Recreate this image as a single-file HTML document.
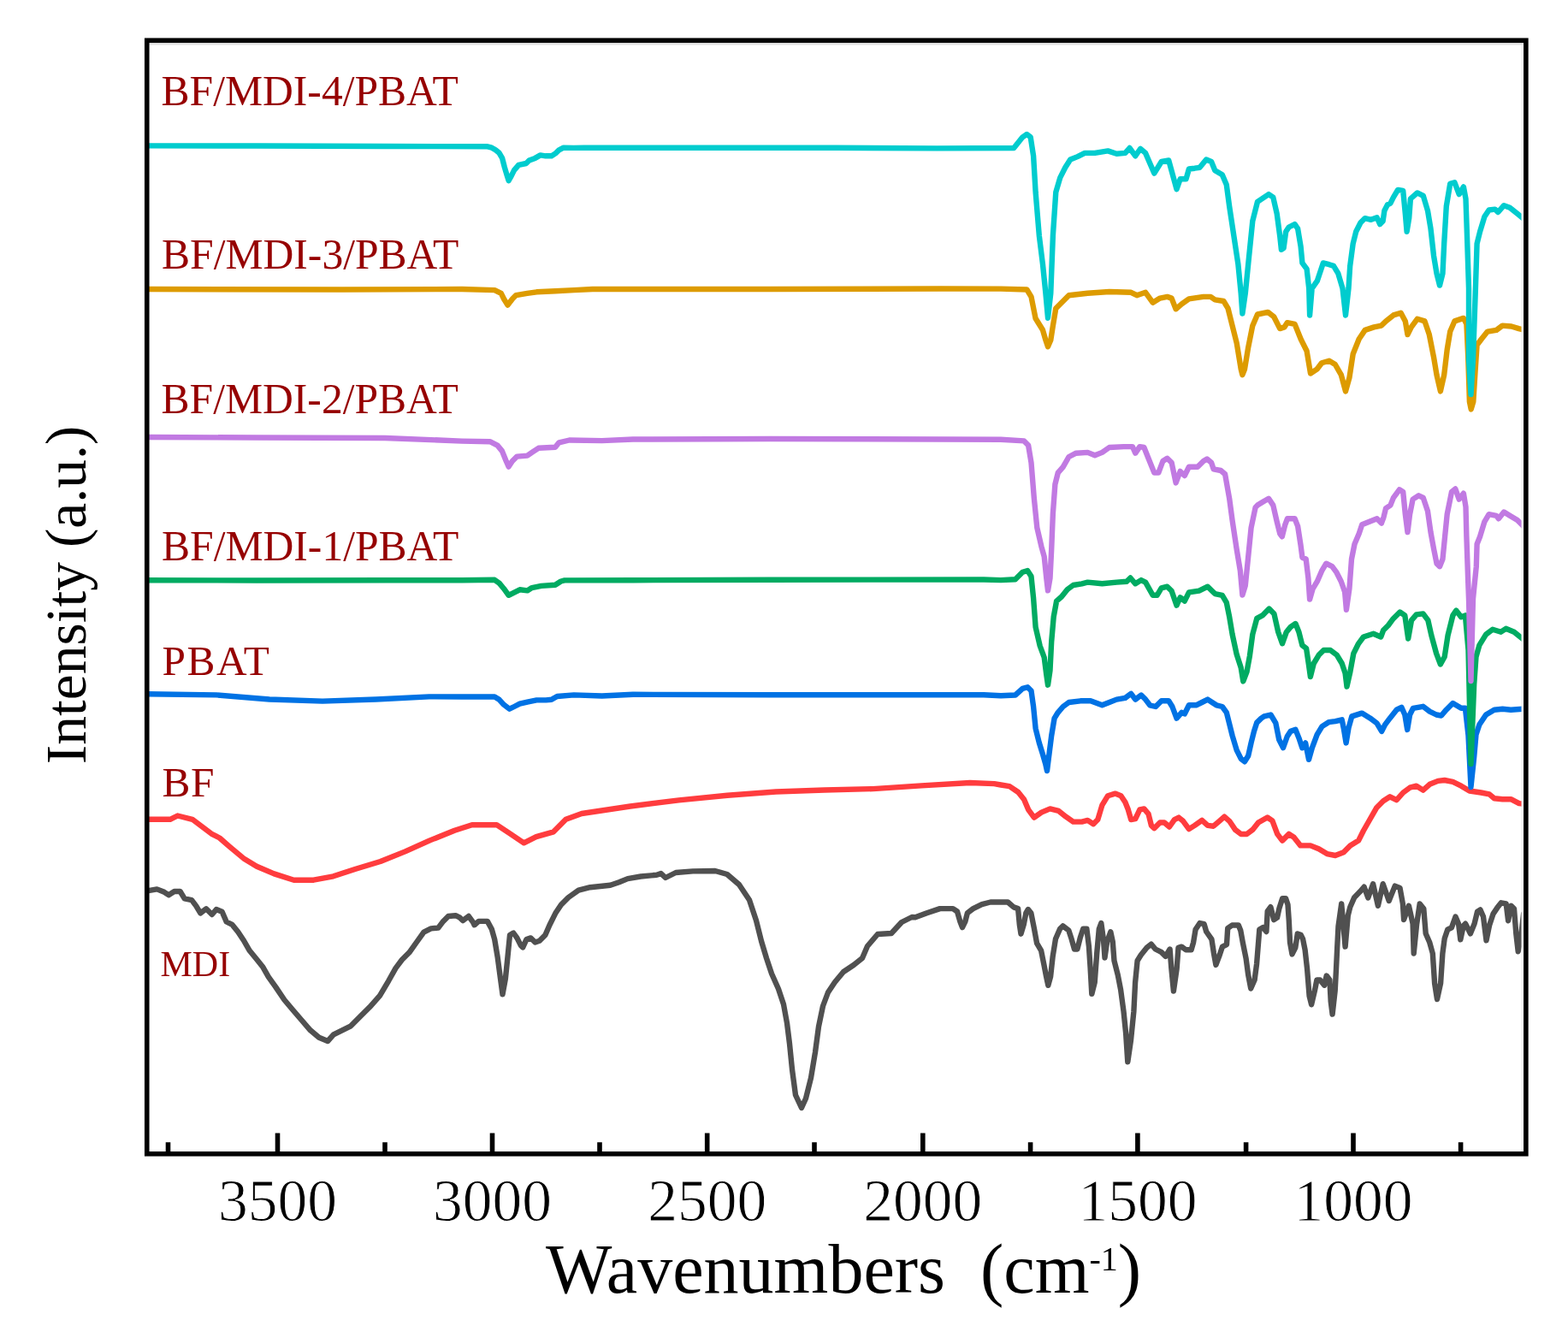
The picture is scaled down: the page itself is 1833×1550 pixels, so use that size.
<!DOCTYPE html>
<html><head><meta charset="utf-8"><title>FTIR spectra</title>
<style>html,body{margin:0;padding:0;background:#fff;}svg{display:block;}</style>
</head><body>
<svg width="1833" height="1550" viewBox="0 0 1833 1550">
<rect x="0" y="0" width="1833" height="1550" fill="#fff"/>
<g fill="none" stroke-width="6.4" stroke-linejoin="round" stroke-linecap="butt">
<polyline stroke="#505050" points="173.4,1041.1 183.5,1039.4 192.0,1042.8 197.1,1046.2 203.8,1042.0 210.6,1042.0 215.7,1050.4 224.1,1052.1 229.2,1058.9 234.3,1067.4 241.0,1062.3 247.8,1069.0 252.9,1063.1 259.6,1065.7 264.7,1077.5 271.5,1080.9 278.2,1089.3 285.0,1099.5 291.8,1111.3 300.2,1121.5 307.0,1129.9 313.8,1141.8 322.2,1153.6 332.4,1168.8 342.5,1180.7 352.6,1192.5 362.8,1204.3 372.9,1212.8 383.1,1217.0 389.9,1209.4 400.0,1204.3 410.1,1199.3 420.3,1189.1 432.1,1177.3 444.0,1163.8 454.1,1146.8 462.6,1131.6 470.0,1121.8 478.5,1113.3 486.9,1101.5 495.4,1089.6 503.8,1085.4 512.3,1084.6 517.4,1077.8 524.1,1071.0 532.6,1070.2 537.6,1072.7 541.0,1076.1 547.8,1071.0 552.9,1077.8 554.6,1081.2 559.6,1076.9 569.8,1076.9 574.9,1086.3 578.2,1098.1 581.6,1118.4 585.0,1143.8 587.5,1162.4 590.9,1143.8 593.5,1118.4 596.0,1093.0 600.2,1090.5 604.4,1096.4 608.7,1104.9 611.2,1107.4 615.4,1098.1 620.5,1096.4 625.6,1101.5 630.7,1099.8 637.4,1093.0 642.5,1081.2 649.3,1067.6 656.0,1057.5 664.5,1049.0 676.3,1040.6 689.9,1037.2 713.5,1034.7 723.7,1031.3 733.8,1027.1 749.0,1024.5 767.6,1022.8 772.7,1021.1 778.0,1026.0 790.0,1020.0 810.0,1018.4 836.0,1018.0 850.0,1022.0 864.0,1034.0 876.0,1052.0 884.0,1076.0 890.0,1100.0 896.0,1120.0 902.0,1138.0 910.0,1156.0 916.0,1174.0 920.0,1196.0 923.0,1220.0 926.0,1250.0 930.0,1280.0 937.0,1295.0 942.0,1284.0 948.0,1260.0 953.0,1230.0 957.0,1200.0 962.0,1176.0 968.0,1160.0 976.0,1148.0 986.0,1136.0 998.0,1128.0 1008.0,1120.0 1014.0,1106.0 1026.0,1092.0 1042.0,1091.0 1054.0,1078.0 1066.0,1072.0 1070.0,1072.3 1083.5,1067.2 1098.8,1062.1 1114.0,1062.1 1119.0,1065.5 1122.4,1077.4 1125.0,1084.1 1128.3,1077.4 1130.9,1067.2 1137.6,1062.1 1147.8,1057.1 1157.9,1054.5 1178.2,1054.5 1185.0,1060.4 1190.1,1062.1 1191.8,1080.7 1193.5,1091.7 1196.8,1080.7 1199.4,1067.2 1201.9,1063.0 1205.3,1067.2 1208.7,1084.1 1212.1,1102.7 1217.1,1111.2 1220.5,1128.1 1223.1,1141.6 1225.3,1151.8 1228.1,1141.6 1230.7,1117.9 1234.0,1097.6 1239.1,1085.8 1242.5,1082.4 1249.3,1087.5 1252.6,1097.6 1256.0,1109.5 1259.4,1109.5 1262.8,1096.0 1266.2,1085.8 1270.4,1085.8 1272.9,1106.1 1274.6,1131.5 1276.3,1161.9 1279.7,1148.4 1282.2,1114.6 1284.8,1085.8 1287.3,1079.0 1289.9,1097.6 1291.5,1119.6 1294.1,1101.0 1298.3,1089.2 1300.8,1101.0 1302.5,1123.0 1306.8,1139.9 1310.1,1156.8 1313.5,1182.2 1316.1,1207.6 1318.3,1241.4 1322.0,1216.0 1325.4,1182.2 1327.1,1148.4 1329.6,1123.0 1333.8,1116.3 1340.6,1107.8 1345.7,1103.6 1350.7,1109.5 1357.5,1112.9 1362.6,1117.9 1367.6,1109.5 1369.3,1131.5 1371.9,1158.5 1375.6,1132.9 1377.5,1107.8 1381.3,1106.6 1386.3,1110.3 1392.6,1110.3 1395.1,1101.6 1397.6,1086.5 1402.6,1079.0 1407.6,1080.2 1410.2,1089.0 1416.4,1097.8 1418.9,1114.1 1421.4,1127.9 1425.2,1117.9 1429.0,1106.6 1434.0,1104.1 1435.2,1085.2 1440.3,1081.5 1447.8,1081.5 1450.3,1087.8 1452.8,1101.6 1456.6,1120.4 1459.1,1139.2 1462.2,1155.5 1466.6,1145.5 1469.1,1126.6 1470.4,1110.3 1472.3,1086.5 1476.6,1084.0 1480.4,1089.0 1481.7,1065.2 1485.4,1060.2 1489.2,1075.2 1493.0,1072.7 1495.5,1061.4 1499.2,1050.1 1503.0,1050.1 1505.5,1057.6 1506.8,1076.5 1508.0,1101.6 1510.5,1115.4 1514.3,1107.8 1516.8,1091.5 1520.6,1092.8 1523.1,1097.8 1525.6,1110.3 1528.1,1132.9 1530.6,1164.3 1533.1,1174.3 1536.9,1158.0 1539.4,1145.5 1543.1,1145.5 1548.2,1151.7 1550.7,1140.5 1554.4,1145.5 1555.7,1170.6 1557.6,1185.6 1560.7,1158.0 1562.0,1132.9 1563.2,1107.8 1564.5,1082.7 1568.2,1056.4 1572.6,1106.6 1575.8,1070.2 1578.3,1060.2 1583.3,1048.9 1589.6,1042.6 1594.6,1036.7 1599.3,1049.5 1605.1,1033.2 1610.9,1058.8 1616.7,1033.2 1623.7,1053.0 1630.7,1035.6 1636.5,1037.9 1639.9,1056.5 1641.1,1075.0 1646.9,1058.8 1651.6,1079.7 1652.7,1114.5 1656.2,1079.7 1659.7,1056.5 1664.3,1062.3 1666.7,1091.3 1671.3,1101.8 1674.8,1114.5 1677.1,1149.4 1680.0,1168.0 1684.1,1149.4 1686.4,1114.5 1688.7,1097.1 1692.2,1086.7 1696.9,1084.3 1701.5,1071.6 1705.0,1079.7 1707.3,1098.3 1710.8,1082.0 1713.1,1079.7 1718.9,1091.3 1723.6,1079.7 1727.0,1065.7 1730.5,1063.4 1734.0,1071.6 1737.5,1099.4 1741.0,1082.0 1745.6,1068.1 1750.3,1061.1 1754.9,1055.3 1760.7,1056.5 1763.1,1076.2 1766.5,1058.8 1770.0,1062.3 1772.3,1091.3 1774.7,1112.2 1778.2,1093.6 1781.1,1068.1 1782.8,1065.7"/>
<polyline stroke="#FF3C3E" points="172.9,957.8 187.3,957.8 198.9,957.8 207.6,953.5 224.9,957.8 236.5,966.5 248.1,975.2 256.7,979.5 268.3,989.6 285.7,1004.1 300.1,1012.8 320.4,1021.4 343.5,1028.7 366.6,1028.7 389.7,1024.3 415.8,1015.7 444.7,1007.0 473.6,995.4 502.5,982.4 531.4,970.8 551.7,964.2 580.6,964.2 595.0,973.7 612.4,985.3 626.8,978.1 647.1,972.3 661.5,957.8 680.0,951.0 736.7,942.5 793.5,935.4 850.2,929.7 907.0,925.5 963.7,923.5 1020.4,922.1 1077.2,918.4 1133.9,915.0 1162.3,916.1 1170.0,917.5 1180.1,919.2 1190.3,926.0 1197.1,934.4 1202.1,946.3 1208.9,955.6 1217.4,949.6 1227.5,945.4 1237.6,947.9 1246.1,954.7 1254.6,960.6 1264.7,960.6 1271.5,958.9 1278.2,963.2 1283.3,958.1 1288.4,941.2 1295.1,930.2 1303.6,927.6 1310.4,930.2 1315.4,937.8 1318.8,946.3 1322.2,958.1 1327.3,957.2 1332.4,946.3 1337.4,945.4 1342.5,951.3 1345.9,964.9 1349.3,968.2 1356.0,961.5 1361.1,961.5 1367.0,966.5 1372.9,958.1 1378.0,955.6 1383.1,959.8 1389.9,969.1 1396.6,964.9 1405.1,958.9 1411.8,964.9 1418.6,965.7 1425.4,959.8 1431.3,954.7 1437.2,959.8 1444.0,969.9 1450.7,975.0 1457.5,975.0 1464.3,969.9 1471.0,961.5 1481.6,955.5 1487.4,959.4 1493.2,974.9 1499.0,982.6 1506.8,974.9 1512.6,978.7 1520.3,988.4 1531.9,988.4 1541.6,992.3 1551.3,998.1 1561.0,1000.0 1570.7,996.2 1578.4,988.4 1588.1,982.6 1593.9,971.0 1601.6,957.5 1609.4,943.9 1617.1,936.2 1624.9,931.3 1632.6,935.2 1640.3,926.5 1648.1,920.7 1655.8,918.7 1663.6,923.6 1671.3,916.8 1681.0,912.9 1688.7,912.0 1698.4,913.9 1708.1,918.7 1717.8,924.5 1731.3,926.5 1741.0,928.4 1746.8,933.3 1756.5,934.2 1766.2,934.2 1775.8,939.1 1783.6,940.0"/>
<polyline stroke="#0072E4" points="172.0,811.3 253.0,812.4 315.0,817.5 377.0,819.6 439.5,817.5 501.7,814.4 540.0,814.5 578.2,814.5 583.6,817.8 589.1,823.8 595.6,828.7 601.1,826.0 607.6,822.7 616.4,820.6 627.3,818.4 638.2,818.4 644.7,817.8 651.3,814.0 670.9,812.4 703.7,813.5 740.0,811.8 900.0,812.3 1150.0,812.3 1170.0,813.3 1186.9,812.5 1195.4,804.9 1201.3,803.2 1205.5,807.4 1208.1,826.0 1210.6,851.4 1214.8,868.3 1219.0,881.8 1222.4,893.7 1220.5,885.0 1224.0,901.0 1229.2,859.9 1232.6,839.6 1236.8,832.8 1242.7,826.0 1249.5,821.0 1263.0,819.3 1274.9,819.3 1288.4,824.3 1296.8,821.0 1305.3,817.6 1315.4,815.9 1322.2,810.8 1327.3,817.6 1334.0,812.5 1339.1,817.6 1344.2,824.3 1351.0,826.0 1357.7,819.3 1366.2,819.3 1370.4,826.0 1375.5,839.6 1381.4,832.8 1384.8,834.5 1389.9,824.3 1398.3,824.3 1405.1,821.0 1411.8,817.6 1416.9,821.0 1422.0,824.3 1428.8,826.0 1433.8,832.8 1437.2,846.3 1440.6,859.9 1445.7,876.8 1450.7,886.9 1455.0,890.3 1459.2,883.5 1462.6,868.3 1466.0,854.8 1469.3,844.6 1474.4,839.6 1477.7,837.4 1485.5,835.5 1491.3,845.2 1495.2,864.5 1500.0,874.2 1504.8,860.7 1508.7,854.9 1514.5,852.9 1518.4,862.6 1522.3,874.2 1526.1,868.4 1530.0,887.8 1533.9,874.2 1539.7,858.7 1545.5,849.1 1553.2,844.2 1561.0,843.2 1568.7,841.3 1570.7,851.0 1573.6,868.4 1576.5,851.0 1580.3,837.4 1592.0,833.6 1601.6,839.4 1609.4,845.2 1615.2,854.9 1619.1,847.1 1624.9,839.4 1632.6,829.7 1638.4,826.8 1642.3,835.5 1645.2,852.9 1648.1,835.5 1652.0,827.8 1663.6,825.8 1671.3,831.6 1679.1,835.5 1684.9,836.5 1690.7,829.7 1698.4,822.0 1708.1,827.8 1712.9,827.8 1716.5,860.0 1719.5,920.0 1723.2,885.0 1725.5,858.7 1729.4,847.1 1737.1,835.5 1746.8,829.7 1756.5,828.7 1766.2,829.7 1779.7,828.7 1783.6,828.7"/>
<polyline stroke="#00AB62" points="172.0,678.2 300.0,678.5 450.0,678.3 540.0,678.2 578.2,677.8 583.6,681.6 589.1,688.2 594.6,695.8 601.1,692.6 607.6,689.3 616.4,690.4 621.8,687.1 632.7,684.9 649.1,683.8 655.7,679.5 660.0,678.4 740.0,678.2 900.0,677.8 1150.0,677.5 1170.0,678.1 1186.9,677.2 1195.4,668.8 1201.3,667.1 1205.5,673.8 1208.1,699.2 1210.6,733.0 1215.7,755.0 1220.7,768.5 1223.3,788.8 1225.0,800.7 1227.5,783.8 1229.2,749.9 1231.7,721.2 1235.1,702.6 1241.0,697.5 1247.8,689.0 1254.6,684.0 1264.7,682.3 1271.5,680.6 1288.4,682.3 1305.3,680.6 1317.1,679.7 1321.4,675.5 1327.3,682.3 1334.0,678.1 1339.1,680.6 1347.6,695.8 1352.6,695.8 1357.7,687.4 1364.5,685.7 1369.6,690.7 1375.5,707.6 1379.7,698.3 1384.8,702.6 1389.9,692.4 1401.7,690.7 1411.8,685.7 1416.9,690.7 1420.3,694.1 1428.8,695.8 1433.8,704.3 1437.2,721.2 1440.6,741.5 1445.7,765.1 1450.7,780.4 1453.3,796.4 1457.5,785.4 1460.9,766.8 1464.3,741.5 1469.3,722.9 1475.8,719.4 1483.6,711.6 1489.4,717.4 1494.2,738.7 1499.0,752.3 1503.9,738.7 1508.7,732.9 1514.5,729.0 1518.4,738.7 1522.3,754.2 1527.1,758.1 1530.0,777.4 1531.9,791.0 1535.8,775.5 1541.6,765.8 1547.4,760.0 1555.2,760.0 1562.9,765.8 1568.7,775.5 1572.6,787.1 1574.5,802.6 1578.4,785.2 1582.3,763.9 1588.1,752.3 1593.9,744.5 1605.5,740.7 1614.2,744.5 1617.1,736.8 1622.9,731.0 1628.7,723.2 1636.5,715.5 1642.3,719.4 1646.2,746.5 1650.0,725.2 1655.8,718.4 1663.6,717.4 1669.4,725.2 1673.3,742.6 1679.1,763.9 1683.9,776.5 1688.7,767.8 1692.6,742.6 1698.4,719.4 1702.3,713.6 1708.1,721.3 1712.9,719.4 1716.5,760.0 1719.5,893.0 1723.2,800.0 1725.5,767.8 1729.4,754.2 1737.1,741.6 1744.9,735.8 1754.6,738.7 1760.4,734.8 1770.0,738.7 1779.7,746.5 1783.6,748.4"/>
<polyline stroke="#C17AE2" points="173.0,511.0 300.0,511.5 450.0,512.0 540.0,515.6 572.7,516.2 581.5,520.6 586.9,527.1 591.3,538.0 594.6,545.6 598.9,539.1 604.4,533.6 616.4,532.6 622.9,528.2 629.5,523.8 649.1,522.7 653.5,517.3 665.5,514.5 703.7,515.1 740.0,513.5 900.0,513.0 1100.0,513.5 1170.0,513.7 1197.1,515.4 1202.1,520.4 1205.5,540.7 1208.9,583.0 1212.3,616.8 1217.4,638.8 1220.7,650.7 1223.3,676.0 1225.0,690.4 1227.5,676.0 1229.2,642.2 1230.9,599.9 1233.4,566.1 1236.8,552.6 1242.7,545.8 1249.5,534.0 1257.9,529.7 1271.5,528.9 1279.9,532.3 1288.4,528.9 1296.8,523.0 1313.8,522.1 1323.9,522.1 1327.3,529.7 1332.4,522.1 1337.4,523.0 1342.5,535.7 1349.3,552.6 1354.3,552.6 1359.4,539.0 1364.5,535.7 1369.6,540.7 1374.6,564.4 1379.7,550.9 1384.8,556.0 1389.9,545.8 1400.0,545.8 1406.8,539.0 1411.0,536.5 1416.1,540.7 1418.6,548.3 1427.1,550.0 1432.1,554.3 1437.2,583.0 1440.6,608.4 1445.7,642.2 1449.9,667.6 1452.4,695.5 1455.8,684.5 1459.2,650.7 1462.6,616.8 1467.6,593.2 1470.0,590.6 1477.0,586.3 1483.1,582.8 1488.3,590.6 1492.7,609.8 1496.2,623.8 1498.8,627.3 1502.3,613.3 1504.9,606.3 1513.6,606.3 1517.1,615.1 1520.6,637.8 1522.4,651.7 1526.7,653.5 1529.4,676.2 1531.1,700.6 1534.6,688.4 1539.8,679.7 1545.1,667.4 1550.3,658.7 1557.3,662.2 1562.5,669.2 1567.8,679.7 1572.1,691.9 1573.9,712.8 1577.4,688.4 1580.0,653.5 1583.5,636.0 1588.7,623.8 1592.2,613.3 1600.9,609.8 1609.7,606.3 1614.9,611.6 1617.5,604.6 1620.1,594.1 1625.4,590.6 1628.9,581.9 1635.9,572.3 1640.2,574.9 1642.8,601.1 1645.5,622.1 1648.1,601.1 1651.6,583.6 1658.5,579.3 1663.8,581.9 1669.0,597.6 1672.5,622.1 1676.0,641.3 1679.5,658.7 1683.0,662.2 1686.5,653.5 1689.1,627.3 1691.7,601.1 1697.0,574.9 1701.3,571.4 1705.7,583.6 1710.9,576.7 1713.5,592.4 1714.4,627.3 1716.2,679.7 1717.0,700.0 1719.5,796.0 1722.0,700.0 1725.8,662.2 1726.6,636.0 1730.1,627.3 1735.4,609.8 1740.6,601.1 1749.3,602.8 1751.9,606.3 1758.1,598.5 1765.0,602.8 1773.8,608.1 1782.5,616.8"/>
<polyline stroke="#DD9B00" points="173.0,338.0 400.0,338.5 540.0,338.0 578.2,339.1 585.8,342.9 589.1,349.5 593.5,356.6 598.9,349.5 603.3,345.1 616.4,342.9 627.3,341.3 649.1,340.2 670.9,339.1 692.8,338.0 740.0,338.0 900.0,338.0 1100.0,337.5 1170.0,337.6 1200.4,338.5 1205.5,346.9 1210.6,372.3 1219.0,385.8 1222.4,397.6 1225.0,405.3 1228.3,397.6 1230.9,380.7 1234.3,360.4 1241.0,353.7 1249.5,345.2 1271.5,342.7 1296.8,341.0 1322.2,341.8 1329.0,345.2 1339.1,341.8 1347.6,353.7 1356.0,348.6 1364.5,346.9 1369.6,348.6 1374.6,361.3 1381.4,355.4 1389.9,349.4 1406.8,346.9 1415.2,346.9 1420.3,350.3 1430.4,352.0 1435.5,360.4 1440.6,380.7 1445.7,401.0 1450.7,431.5 1452.4,438.2 1455.0,431.5 1459.2,406.1 1464.3,380.7 1470.0,367.5 1482.2,364.9 1489.2,370.2 1496.2,384.1 1501.4,382.4 1504.9,377.1 1513.6,378.9 1520.6,396.3 1527.6,410.3 1532.0,436.5 1539.8,431.3 1545.1,424.3 1553.8,421.7 1560.8,426.0 1567.8,438.2 1573.0,457.4 1577.4,441.7 1581.7,413.8 1588.7,396.3 1595.7,385.9 1606.2,382.4 1614.9,380.6 1620.1,375.4 1628.9,368.4 1637.6,365.8 1642.8,375.4 1645.5,391.1 1649.8,382.4 1656.8,372.8 1665.5,375.4 1670.8,391.1 1676.0,417.3 1679.5,438.2 1683.9,457.4 1688.2,438.2 1691.7,408.6 1695.2,387.6 1700.4,375.4 1710.9,371.9 1714.4,378.9 1716.2,417.3 1717.9,469.7 1719.7,478.4 1722.3,469.7 1724.5,434.7 1726.6,403.3 1731.9,396.3 1738.9,387.6 1749.3,385.9 1756.3,380.6 1766.8,381.5 1775.5,384.1 1782.5,385.9"/>
<polyline stroke="#00CCCE" points="173.0,170.4 300.0,170.5 450.0,171.0 569.0,171.2 574.9,172.7 579.3,175.3 583.6,178.8 587.1,184.9 589.8,195.4 592.4,204.1 594.6,211.1 597.6,205.9 601.1,198.9 606.3,192.8 615.1,191.0 618.6,187.5 625.5,184.9 631.7,181.4 637.8,182.3 644.7,182.3 650.0,178.8 653.5,175.3 658.7,172.7 670.9,172.9 682.7,172.7 813.7,172.7 977.3,172.7 1095.2,173.4 1185.2,173.0 1195.4,160.3 1200.4,156.9 1204.7,160.3 1208.1,182.3 1210.6,224.6 1214.8,275.3 1219.0,309.1 1222.4,342.9 1225.0,371.7 1228.3,342.9 1230.9,275.3 1234.3,224.6 1239.3,207.6 1245.3,195.8 1251.2,186.5 1259.6,183.1 1268.1,178.9 1279.9,178.9 1295.1,176.4 1305.3,179.7 1315.4,178.9 1320.5,173.0 1327.3,182.3 1333.2,173.8 1339.1,178.9 1349.3,202.6 1357.7,189.0 1366.2,187.4 1375.5,221.2 1379.7,209.3 1386.5,209.3 1389.9,197.5 1396.6,196.7 1402.5,195.8 1410.1,186.5 1416.1,189.0 1420.3,199.2 1428.8,204.3 1433.8,216.1 1437.2,241.5 1442.3,275.3 1447.4,309.1 1450.7,342.9 1452.4,366.6 1455.8,342.9 1460.0,300.7 1464.3,258.4 1470.0,235.9 1475.2,232.4 1483.1,227.1 1488.3,230.6 1492.7,249.8 1496.2,276.0 1497.9,291.7 1500.6,290.0 1503.2,270.8 1506.7,265.5 1513.6,262.1 1517.1,267.3 1520.6,288.2 1522.4,307.4 1527.6,314.4 1530.2,337.1 1531.1,368.5 1533.7,337.1 1539.8,328.4 1543.3,317.9 1546.8,307.4 1553.8,309.2 1559.0,310.9 1564.3,319.7 1569.5,337.1 1573.0,368.5 1576.5,337.1 1578.2,310.9 1581.7,284.7 1585.2,270.8 1590.5,260.3 1595.7,255.1 1602.7,256.8 1609.7,254.2 1613.2,262.1 1616.6,258.6 1618.4,246.3 1621.9,239.4 1625.4,237.6 1628.9,230.6 1634.1,221.9 1640.2,222.8 1642.8,249.8 1644.6,270.8 1647.2,255.1 1648.9,232.4 1656.8,225.4 1663.8,228.9 1669.0,246.3 1672.5,267.3 1676.0,298.7 1679.5,319.7 1683.0,333.6 1686.5,319.7 1688.2,284.7 1690.8,241.1 1695.2,214.9 1700.4,213.2 1705.7,227.1 1710.9,218.4 1713.5,232.4 1715.3,284.7 1717.0,337.1 1717.0,420.0 1719.5,461.0 1722.0,420.0 1724.9,337.1 1726.6,284.7 1730.1,270.8 1735.4,253.3 1740.6,245.5 1747.6,244.6 1751.1,248.1 1758.1,240.2 1765.0,242.8 1773.8,249.8 1782.5,256.8"/>
</g>
<rect x="174.5" y="50" width="1606.5" height="2.6" fill="#e2e2e2"/>
<rect x="1778.5" y="52" width="2.5" height="1294" fill="#f3f3f3"/>
<rect x="171.75" y="47.25" width="1612.1" height="1301.55" fill="none" stroke="#000" stroke-width="5.6"/>
<path d="M1707.6,1348.8V1335.2 M1582.0,1348.8V1324.4 M1456.6,1348.8V1335.2 M1329.9,1348.8V1324.4 M1204.6,1348.8V1335.2 M1078.8,1348.8V1324.4 M952.0,1348.8V1335.2 M826.7,1348.8V1324.4 M701.0,1348.8V1335.2 M575.5,1348.8V1324.4 M450.0,1348.8V1335.2 M324.5,1348.8V1324.4 M196.5,1348.8V1335.2" stroke="#000" stroke-width="5.6" fill="none"/>
<g font-family="Liberation Serif, Times New Roman, serif" font-size="69.5" fill="#000" text-anchor="middle" stroke="#fff" stroke-width="0.9">
<text x="1582.0" y="1427">1000</text>
<text x="1329.9" y="1427">1500</text>
<text x="1078.8" y="1427">2000</text>
<text x="826.7" y="1427">2500</text>
<text x="575.5" y="1427">3000</text>
<text x="324.5" y="1427">3500</text>
</g>
<text x="638" y="1511.3" font-family="Liberation Serif, Times New Roman, serif" font-size="82" fill="#000" xml:space="preserve">Wavenumbers  (cm<tspan font-size="40" dy="-26.6">-1</tspan><tspan dy="26.6">)</tspan></text>
<text transform="translate(99.6,893.2) rotate(-90)" x="0" y="0" font-family="Liberation Serif, Times New Roman, serif" font-size="67.5" fill="#000" xml:space="preserve">Intensity (a.u.)</text>
<g font-family="Liberation Serif, Times New Roman, serif" fill="#960000">
<text x="188.5" y="122.8" font-size="49.6" letter-spacing="0">BF/MDI-4/PBAT</text>
<text x="189" y="314.2" font-size="49.6" letter-spacing="0">BF/MDI-3/PBAT</text>
<text x="188.5" y="483.2" font-size="49.6" letter-spacing="0">BF/MDI-2/PBAT</text>
<text x="189" y="655.2" font-size="49.6" letter-spacing="0">BF/MDI-1/PBAT</text>
<text x="189.5" y="789.2" font-size="49.3" letter-spacing="1.6">PBAT</text>
<text x="189.5" y="930.8" font-size="49.3" letter-spacing="0.5">BF</text>
<text x="187.5" y="1140.8" font-size="42" letter-spacing="0">MDI</text>
</g>
</svg>
</body></html>
